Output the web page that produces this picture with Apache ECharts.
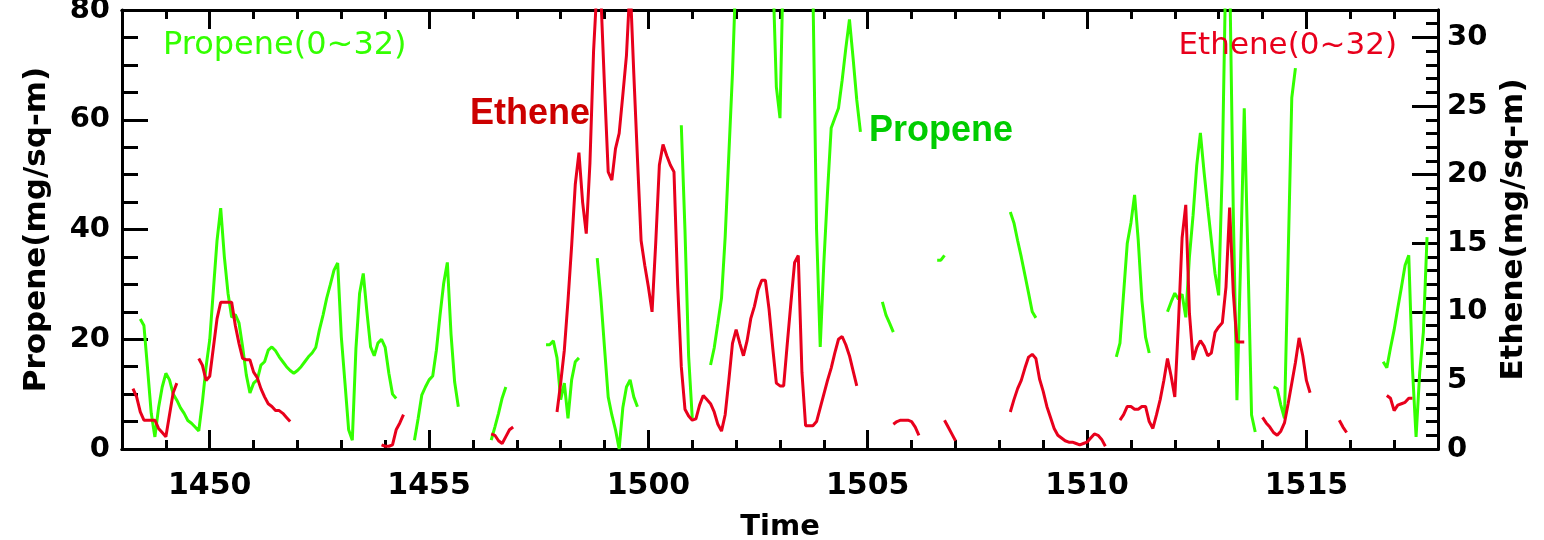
<!DOCTYPE html>
<html><head><meta charset="utf-8">
<script src="https://cdn.jsdelivr.net/npm/echarts@6/dist/echarts.min.js"></script>
<style>html,body{margin:0;padding:0;background:#fff}#c{width:1544px;height:540px}</style>
</head><body><div id="c"></div>
<script>
// ---------------- data ----------------
const sampleStepSec = 5;
const axisStart = '14:48';
const axisEnd = '15:18';
const xLabelTimes = ['14:50', '14:55', '15:00', '15:05', '15:10', '15:15'];
const propeneTicks = [0, 20, 40, 60, 80];
const etheneLabelTicks = [0, 5, 10, 15, 20, 25, 30];

// Propene (left axis, mg/sq-m): start time of each continuous run, then run values every 5 s
const propeneStarts = ['14:48:25', '14:54:40', '14:56:25', '14:57:40', '14:58:50', '15:00:45',
  '15:01:25', '15:05:20', '15:06:35', '15:08:15', '15:10:40', '15:11:50', '15:14:15', '15:16:45'];
const propeneRun1 = [23.7, 22.5, 14.6, 6.5, 2.2, 7.5, 11.3, 13.8, 12.6, 10, 8.9, 7.5, 6.5, 5.2, 4.7, 4, 3.3, 8.6, 15, 19.9,
  29, 38, 43.9, 35, 28.4, 24, 24.5, 23, 18.6, 13.5, 10.2, 12, 12.6, 15.3, 15.9, 18, 18.6, 17.9, 16.8, 15.9,
  15, 14.3, 13.8, 14.3, 15, 15.9, 16.8, 17.5, 18.5, 21.7, 24.4, 27.5, 30, 32.6, 33.9, 20.4, 12, 3.5, 1.6, 18.4,
  28.4, 32, 25, 18.6, 17, 19.3, 20, 18.5, 13.8, 10, 9.2];
const propeneRun2 = [1.6, 5.5, 9.8, 11.3, 12.6, 13.3, 18, 24.4, 30.2, 34, 21, 12.2, 7.7];
const propeneRun3 = [1.6, 4, 6.5, 9.3, 11.3];
const propeneRun4 = [19, 19, 19.7, 16.6, 9, 12, 5.6, 12.6, 15.9, 16.6];
const propeneRun5 = [34.8, 27.5, 18.4, 9.5, 6.2, 3.5, 0, 7.5, 11.3, 12.6, 9.5, 7.7];
const propeneRun6 = [59, 40, 17, 5.6];
const propeneRun7 = [15.3, 18.4, 22.9, 27.5, 38.6, 53.6, 68.5, 88, 100, 105, 105, 105, 105, 105, 105, 100, 95, 88, 66, 60.3,
  92, 100, 105, 105, 105, 105, 105, 100, 84, 40, 18.6, 34, 46.8, 58.5, 60.3, 62.1, 67.2, 73, 78.3, 71.2,
  63.6, 57.8];
const propeneRun8 = [26.8, 24.4, 22.9, 21.3];
const propeneRun9 = [34.4, 34.4, 35.3];
const propeneRun10 = [43.2, 41.2, 38, 35, 31.7, 28.4, 25, 23.9];
const propeneRun11 = [16.8, 19.3, 28.4, 37.5, 41.2, 46.3, 38, 27.1, 20.4, 17.5];
const propeneRun12 = [25, 26.8, 28.4, 27.3, 28.2, 24, 35, 42.6, 51.7, 57.6, 50.5, 44.1, 38, 32, 28, 51.4, 90, 88, 43.2, 8.9,
  34, 62.1, 35, 6.2, 3.1];
const propeneRun13 = [11.3, 11, 8, 5.6, 34.8, 64, 69.4];
const propeneRun14 = [15.9, 14.8, 18.4, 21.7, 25.7, 29.5, 33.5, 35.3, 14.8, 2.2, 14, 21.3, 38.6];
const propeneRuns = [propeneRun1, propeneRun2, propeneRun3, propeneRun4, propeneRun5, propeneRun6, propeneRun7,
  propeneRun8, propeneRun9, propeneRun10, propeneRun11, propeneRun12, propeneRun13, propeneRun14];

// Ethene (right axis, mg/sq-m)
const etheneStarts = ['14:48:15', '14:49:45', '14:53:55', '14:56:25', '14:57:55', '15:05:35',
  '15:06:45', '15:08:15', '15:10:45', '15:14:00', '15:15:45', '15:16:50'];
const etheneRun1 = [4.4, 3.8, 2.7, 2.1, 2.1, 2.1, 2.1, 1.5, 1.2, 0.9, 2.5, 4.1, 4.8];
const etheneRun2 = [6.6, 6.1, 5.0, 5.3, 7.4, 9.5, 10.7, 10.7, 10.7, 10.7, 9.0, 7.7, 6.6, 6.5, 6.5, 5.6, 5.2, 4.4, 3.8, 3.3,
  3.1, 2.8, 2.8, 2.6, 2.3, 2.0];
const etheneRun3 = [0.3, 0.2, 0.2, 0.3, 1.4, 1.9, 2.5];
const etheneRun4 = [1.1, 1.0, 0.6, 0.4, 0.9, 1.4, 1.6];
const etheneRun5 = [2.7, 4.8, 7.2, 10.8, 14.8, 19.3, 21.6, 18.0, 15.7, 20.8, 29.0, 34, 33, 26.4, 20.2, 19.6, 21.9, 23, 25.8, 28.7,
  34, 27.4, 21.2, 15.2, 13.4, 11.8, 10, 15, 20.7, 22.2, 21.4, 20.7, 20.2, 12.0, 6.0, 2.9, 2.4, 2.1, 2.2, 3.2,
  3.9, 3.6, 3.3, 2.7, 1.8, 1.3, 2.5, 5.0, 7.7, 8.7, 7.7, 6.8, 7.9, 9.5, 10.4, 11.6, 12.3, 12.3, 10.2, 7.4,
  4.8, 4.6, 4.6, 7.7, 10.7, 13.6, 14.1, 5.6, 1.7, 1.7, 1.7, 2.0, 3.0, 4.0, 5.0, 5.9, 7.0, 8.0, 8.2, 7.6,
  6.8, 5.7, 4.6];
const etheneRun6 = [1.8, 2.0, 2.1, 2.1, 2.1, 2.0, 1.6, 1.0];
const etheneRun7 = [2.1, 1.6, 1.1, 0.6];
const etheneRun8 = [2.7, 3.6, 4.4, 5.0, 5.9, 6.7, 6.9, 6.6, 5.1, 4.2, 3.1, 2.3, 1.5, 1.0, 0.8, 0.6, 0.5, 0.5, 0.4, 0.3,
  0.4, 0.5, 0.8, 1.1, 1.0, 0.7, 0.2];
const etheneRun9 = [2.1, 2.5, 3.1, 3.1, 2.9, 2.9, 3.1, 3.1, 2.0, 1.5, 2.5, 3.6, 5.0, 6.6, 5.3, 3.8, 9.2, 15.4, 17.8, 9.9,
  6.5, 7.4, 7.9, 7.5, 6.8, 7.0, 8.5, 8.9, 9.2, 11.8, 17.6, 11.4, 7.8, 7.8, 7.8];
const etheneRun10 = [2.3, 1.9, 1.6, 1.2, 1.0, 1.3, 1.9, 3.3, 4.8, 6.3, 8.1, 6.8, 5.0, 4.1];
const etheneRun11 = [2.1, 1.6, 1.2];
const etheneRun12 = [3.9, 3.7, 2.8, 3.2, 3.3, 3.4, 3.7, 3.7];
const etheneRuns = [etheneRun1, etheneRun2, etheneRun3, etheneRun4, etheneRun5, etheneRun6,
  etheneRun7, etheneRun8, etheneRun9, etheneRun10, etheneRun11, etheneRun12];

// ---------------- build ----------------
function toMin(s) { const p = s.split(':').map(Number); return p[0] * 60 + p[1] + (p[2] || 0) / 60; }
function buildSeries(starts, runs) {
  const out = [];
  starts.forEach((s, k) => {
    const t0 = toMin(s);
    if (k > 0) out.push([t0 - 1 / 120, '-']);
    runs[k].forEach((v, i) => out.push([t0 + i * sampleStepSec / 60, v]));
  });
  return out;
}
const xMin = toMin(axisStart), xMax = toMin(axisEnd);
const minuteTicks = []; for (let m = xMin; m <= xMax; m++) minuteTicks.push(m);
const labelMinutes = xLabelTimes.map(toMin);
const etheneMinor = []; for (let v = 0; v <= 32; v++) etheneMinor.push(v);
const fmtHHMM = v => { const h = Math.floor(v / 60), m = Math.round(v - h * 60); return String(h) + String(m).padStart(2, '0'); };

const GREEN = '#33ff00', RED = '#e8001c', BLACK = '#000';
const lbl = { color: BLACK, fontFamily: 'DejaVu Sans', fontWeight: 'bold', fontSize: 29 };
const line = { show: true, onZero: false, lineStyle: { color: BLACK, width: 3 } };
const tick = (len, vals) => ({ show: true, inside: true, length: len, customValues: vals, lineStyle: { color: BLACK, width: 3 } });

const chart = echarts.init(document.getElementById('c'), null, { renderer: 'canvas' });
chart.setOption({
  animation: false,
  backgroundColor: '#fff',
  grid: { left: 122, right: 106, top: 10, bottom: 91, containLabel: false, outerBoundsMode: 'none' },
  xAxis: [
    { type: 'value', position: 'bottom', min: xMin, max: xMax, axisLine: line, axisTick: tick(9, minuteTicks),
      axisLabel: Object.assign({ customValues: labelMinutes, formatter: fmtHHMM, margin: 22 }, lbl, { fontSize: 30 }),
      splitLine: { show: false },
      name: 'Time', nameLocation: 'middle', nameGap: 64,
      nameTextStyle: { color: BLACK, fontFamily: 'DejaVu Sans', fontWeight: 'bold', fontSize: 29 } },
    { type: 'value', position: 'bottom', min: xMin, max: xMax, axisLine: line, axisTick: tick(19, labelMinutes),
      axisLabel: { show: false }, splitLine: { show: false } },
    { type: 'value', position: 'top', min: xMin, max: xMax, axisLine: line, axisTick: tick(9, minuteTicks),
      axisLabel: { show: false }, splitLine: { show: false } },
    { type: 'value', position: 'top', min: xMin, max: xMax, axisLine: line, axisTick: tick(19, labelMinutes),
      axisLabel: { show: false }, splitLine: { show: false } }
  ],
  yAxis: [
    { type: 'value', position: 'left', min: 0, max: 80, interval: 20, axisLine: line,
      axisTick: { show: true, inside: true, length: 26, lineStyle: { color: BLACK, width: 3 } },
      minorTick: { show: true, splitNumber: 4, length: 16, lineStyle: { color: BLACK, width: 3 } },
      splitLine: { show: false }, minorSplitLine: { show: false },
      axisLabel: Object.assign({ customValues: propeneTicks, margin: 12 }, lbl),
      name: 'Propene(mg/sq-m)', nameLocation: 'middle', nameGap: 70,
      nameTextStyle: { color: BLACK, fontFamily: 'DejaVu Sans', fontWeight: 'bold', fontSize: 31 } },
    { type: 'value', position: 'right', min: 0, max: 32, axisLine: line, axisTick: tick(12, etheneMinor),
      splitLine: { show: false },
      axisLabel: Object.assign({ customValues: etheneLabelTicks, margin: 9 }, lbl),
      name: 'Ethene(mg/sq-m)', nameLocation: 'middle', nameGap: 60,
      nameTextStyle: { color: BLACK, fontFamily: 'DejaVu Sans', fontWeight: 'bold', fontSize: 31 } },
    { type: 'value', position: 'right', min: 0, max: 32, axisLine: line, axisTick: tick(26, etheneLabelTicks),
      splitLine: { show: false }, axisLabel: { show: false } }
  ],
  series: [
    { name: 'Propene', type: 'line', xAxisIndex: 0, yAxisIndex: 0, data: buildSeries(propeneStarts, propeneRuns),
      showSymbol: false, symbol: 'none', connectNulls: false, clip: true,
      lineStyle: { color: GREEN, width: 3 }, itemStyle: { color: GREEN }, z: 2 },
    { name: 'Ethene', type: 'line', xAxisIndex: 0, yAxisIndex: 1, data: buildSeries(etheneStarts, etheneRuns),
      showSymbol: false, symbol: 'none', connectNulls: false, clip: true,
      lineStyle: { color: RED, width: 3 }, itemStyle: { color: RED }, z: 3 }
  ],
  graphic: [
    { type: 'text', x: 163, y: 46, z: 10, style: { text: 'Propene(0~32)', fill: GREEN, fontFamily: 'DejaVu Sans', fontSize: 32, align: 'left', verticalAlign: 'middle' } },
    { type: 'text', x: 1397, y: 46, z: 10, style: { text: 'Ethene(0~32)', fill: RED, fontFamily: 'DejaVu Sans', fontSize: 31, align: 'right', verticalAlign: 'middle' } },
    { type: 'text', x: 470, y: 114.5, z: 10, style: { text: 'Ethene', fill: '#cc0000', fontFamily: 'Liberation Sans', fontWeight: 'bold', fontSize: 36, align: 'left', verticalAlign: 'middle' } },
    { type: 'text', x: 869, y: 131, z: 10, style: { text: 'Propene', fill: '#00cc00', fontFamily: 'Liberation Sans', fontWeight: 'bold', fontSize: 36, align: 'left', verticalAlign: 'middle' } }
  ]
});
</script>
</body></html>
